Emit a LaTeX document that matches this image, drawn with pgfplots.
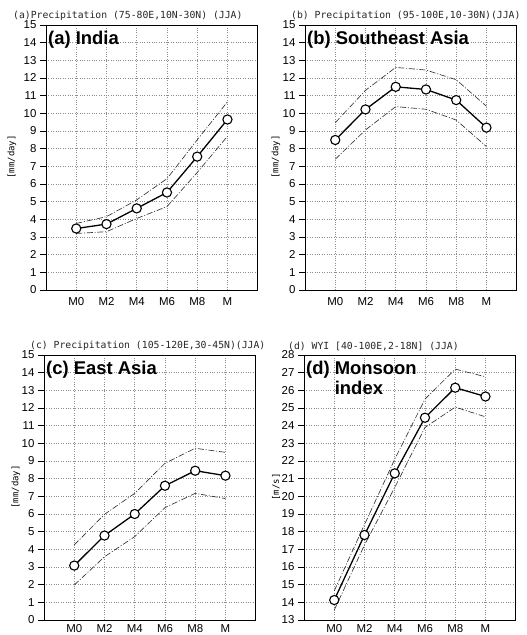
\documentclass[border=0pt]{standalone}
\usepackage{pgfplots}
\pgfplotsset{compat=1.18}
\usepackage{fontspec}
\setmainfont{Liberation Sans}
\newfontfamily\gradsfont{DejaVu Sans Mono}
\pgfplotsset{
  panel/.style={
    scale only axis, width=211.7bp, height=265bp, anchor=south west,
    xmin=-1, xmax=6, xtick={0,1,2,3,4,5}, xticklabels={M0,M2,M4,M6,M8,M},
    xmajorgrids, ymajorgrids,
    grid style={dash pattern=on 0.8bp off 1.6bp, black!45, line width=0.5bp},
    tick align=outside, ytick pos=left, xtick pos=bottom,
    xtick style={draw=none}, major tick length=6bp,
    ytick style={black, line width=0.6bp},
    axis line style={line width=0.8bp},
    ticklabel style={font=\fontsize{11.5}{12}\selectfont},
    xticklabel style={yshift=2bp},
    /pgf/number format/assume math mode=true,
    clip=false,
  },
  meanline/.style={black, line width=1.3bp, mark=*, mark size=4.6bp,
    mark options={solid, fill=white, draw=black, line width=1.1bp}},
  bandline/.style={black!80, line width=0.65bp,
    dash pattern=on 6bp off 1.8bp on 1bp off 1.8bp, mark=none},
}
\tikzset{
  plabel/.style={anchor=north west, inner sep=0pt, align=left,
    font=\bfseries\fontsize{18.5}{20.5}\selectfont},
}
\begin{document}
\begin{tikzpicture}
\path[use as bounding box] (0,0) rectangle (527bp,635bp);

% (a) India
\begin{axis}[panel, at={(46bp,345bp)}, ymin=0, ymax=15, ytick={0,1,...,15}]
\addplot[bandline] coordinates {(0,3.77) (1,4.15) (2,5.10) (3,6.30) (4,8.50) (5,10.65)};
\addplot[bandline] coordinates {(0,3.20) (1,3.30) (2,4.05) (3,4.72) (4,6.65) (5,8.70)};
\addplot[meanline] coordinates {(0,3.48) (1,3.73) (2,4.62) (3,5.52) (4,7.55) (5,9.65)};
\node[plabel] at ([xshift=2bp,yshift=-6bp]rel axis cs:0,1) {(a) India};
\end{axis}

% (b) Southeast Asia
\begin{axis}[panel, at={(305bp,345bp)}, ymin=0, ymax=15, ytick={0,1,...,15}]
\addplot[bandline] coordinates {(0,9.47) (1,11.30) (2,12.60) (3,12.45) (4,11.90) (5,10.40)};
\addplot[bandline] coordinates {(0,7.40) (1,9.06) (2,10.38) (3,10.23) (4,9.62) (5,8.12)};
\addplot[meanline] coordinates {(0,8.49) (1,10.22) (2,11.50) (3,11.35) (4,10.75) (5,9.19)};
\node[plabel] at ([xshift=2bp,yshift=-6bp]rel axis cs:0,1) {(b) Southeast Asia};
\end{axis}

% (c) East Asia
\begin{axis}[panel, at={(44bp,15bp)}, ymin=0, ymax=15, ytick={0,1,...,15}, xticklabel style={yshift=3bp}]
\addplot[bandline] coordinates {(0,4.25) (1,5.98) (2,7.17) (3,8.87) (4,9.72) (5,9.49)};
\addplot[bandline] coordinates {(0,1.98) (1,3.58) (2,4.72) (3,6.36) (4,7.17) (5,6.87)};
\addplot[meanline] coordinates {(0,3.08) (1,4.78) (2,6.00) (3,7.60) (4,8.45) (5,8.17)};
\node[plabel] at ([xshift=2bp,yshift=-6bp]rel axis cs:0,1) {(c) East Asia};
\end{axis}

% (d) Monsoon index
\begin{axis}[panel, at={(304bp,15bp)}, ymin=13, ymax=28, ytick={13,14,...,28}, xticklabel style={yshift=3bp}]
\addplot[bandline] coordinates {(0,14.65) (1,18.40) (2,22.10) (3,25.50) (4,27.20) (5,26.77)};
\addplot[bandline] coordinates {(0,13.56) (1,17.25) (2,20.50) (3,23.90) (4,25.05) (5,24.50)};
\addplot[meanline] coordinates {(0,14.13) (1,17.81) (2,21.30) (3,24.45) (4,26.15) (5,25.65)};
\node[plabel] at ([xshift=2bp,yshift=-6bp]rel axis cs:0,1) {(d) Monsoon\\\phantom{(d) }index};
\end{axis}

% titles
\begin{scope}[every node/.style={anchor=west, inner sep=0pt, font=\gradsfont\fontsize{9.8}{10}\selectfont, text=black!85}]
\node at (13bp,619.5bp) {(a)Precipitation (75-80E,10N-30N) (JJA)};
\node at (291bp,619.5bp) {(b) Precipitation (95-100E,10-30N)(JJA)};
\node at (30bp,289bp) {(c) Precipitation (105-120E,30-45N)(JJA)};
\node at (288bp,289bp) {(d) WYI [40-100E,2-18N] (JJA)};
\end{scope}

% y labels
\begin{scope}[every node/.style={rotate=90, inner sep=0pt, font=\gradsfont\fontsize{9}{10}\selectfont}]
\node at (12bp,478bp) {[mm/day]};
\node at (276bp,478bp) {[mm/day]};
\node at (16bp,148bp) {[mm/day]};
\node at (276bp,148bp) {[m/s]};
\end{scope}
\end{tikzpicture}
\end{document}
